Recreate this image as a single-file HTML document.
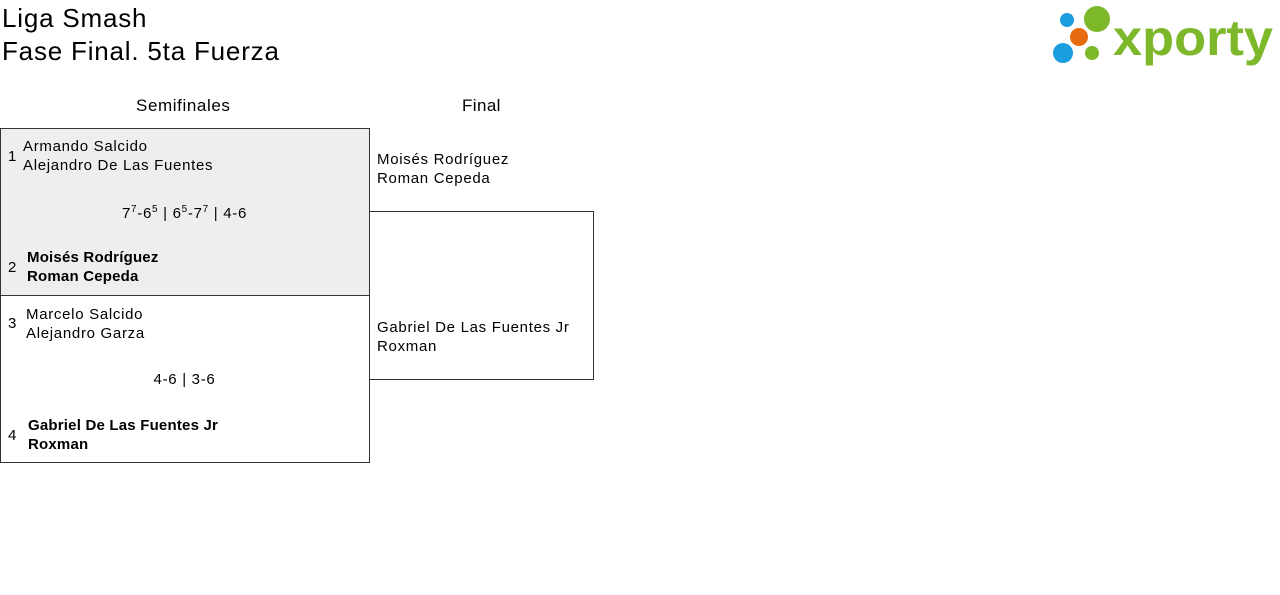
<!DOCTYPE html>
<html><head><meta charset="utf-8"><style>
body{margin:0;width:1280px;height:595px;background:#fff;position:relative;overflow:hidden;font-family:"Liberation Sans",sans-serif;color:#000}
.a{position:absolute;white-space:nowrap}
.t{font-size:15px;line-height:19px;letter-spacing:0.7px}
.b{font-weight:bold;letter-spacing:0.2px}
sup{font-size:10px;line-height:0;vertical-align:6px}
</style></head><body>
<div class="a" style="left:2px;top:2px;font-size:26px;line-height:33px;letter-spacing:0.8px">Liga Smash<br>Fase Final. 5ta Fuerza</div>
<svg class="a" style="left:1040px;top:0" width="240" height="70">
<circle cx="27" cy="20" r="7" fill="#1a9ee0"/>
<circle cx="57" cy="19" r="13" fill="#7cb82a"/>
<circle cx="39" cy="37" r="9" fill="#e56a10"/>
<circle cx="23" cy="53" r="10" fill="#1a9ee0"/>
<circle cx="52" cy="53" r="7" fill="#7cb82a"/>
<text x="73" y="55" font-family="Liberation Sans" font-weight="bold" font-size="50" fill="#7cb82a" textLength="160" lengthAdjust="spacingAndGlyphs">xporty</text>
</svg>
<div class="a" style="left:136px;top:96px;font-size:17px;letter-spacing:0.6px">Semifinales</div>
<div class="a" style="left:462px;top:96px;font-size:17px;letter-spacing:0.4px">Final</div>
<div class="a" style="left:0;top:128px;width:368px;height:166px;background:#eee;border:1px solid #333"></div>
<div class="a" style="left:0;top:295px;width:368px;height:167px;border:1px solid #333;border-top:none"></div>
<div class="a" style="left:369px;top:211px;width:224px;height:167px;border:1px solid #333;border-left:none"></div>
<div class="a t" style="left:8px;top:147px">1</div>
<div class="a t" style="left:23px;top:137px">Armando Salcido<br>Alejandro De Las Fuentes</div>
<div class="a t" style="left:0;width:369px;text-align:center;top:204px">7<sup>7</sup>-6<sup>5</sup> | 6<sup>5</sup>-7<sup>7</sup> | 4-6</div>
<div class="a t" style="left:8px;top:258px">2</div>
<div class="a t b" style="left:27px;top:248px">Moisés Rodríguez<br>Roman Cepeda</div>
<div class="a t" style="left:8px;top:314px">3</div>
<div class="a t" style="left:26px;top:305px">Marcelo Salcido<br>Alejandro Garza</div>
<div class="a t" style="left:0;width:369px;text-align:center;top:370px">4-6 | 3-6</div>
<div class="a t" style="left:8px;top:426px">4</div>
<div class="a t b" style="left:28px;top:416px">Gabriel De Las Fuentes Jr<br>Roxman</div>
<div class="a t" style="left:377px;top:150px">Moisés Rodríguez<br>Roman Cepeda</div>
<div class="a t" style="left:377px;top:318px">Gabriel De Las Fuentes Jr<br>Roxman</div>
</body></html>
